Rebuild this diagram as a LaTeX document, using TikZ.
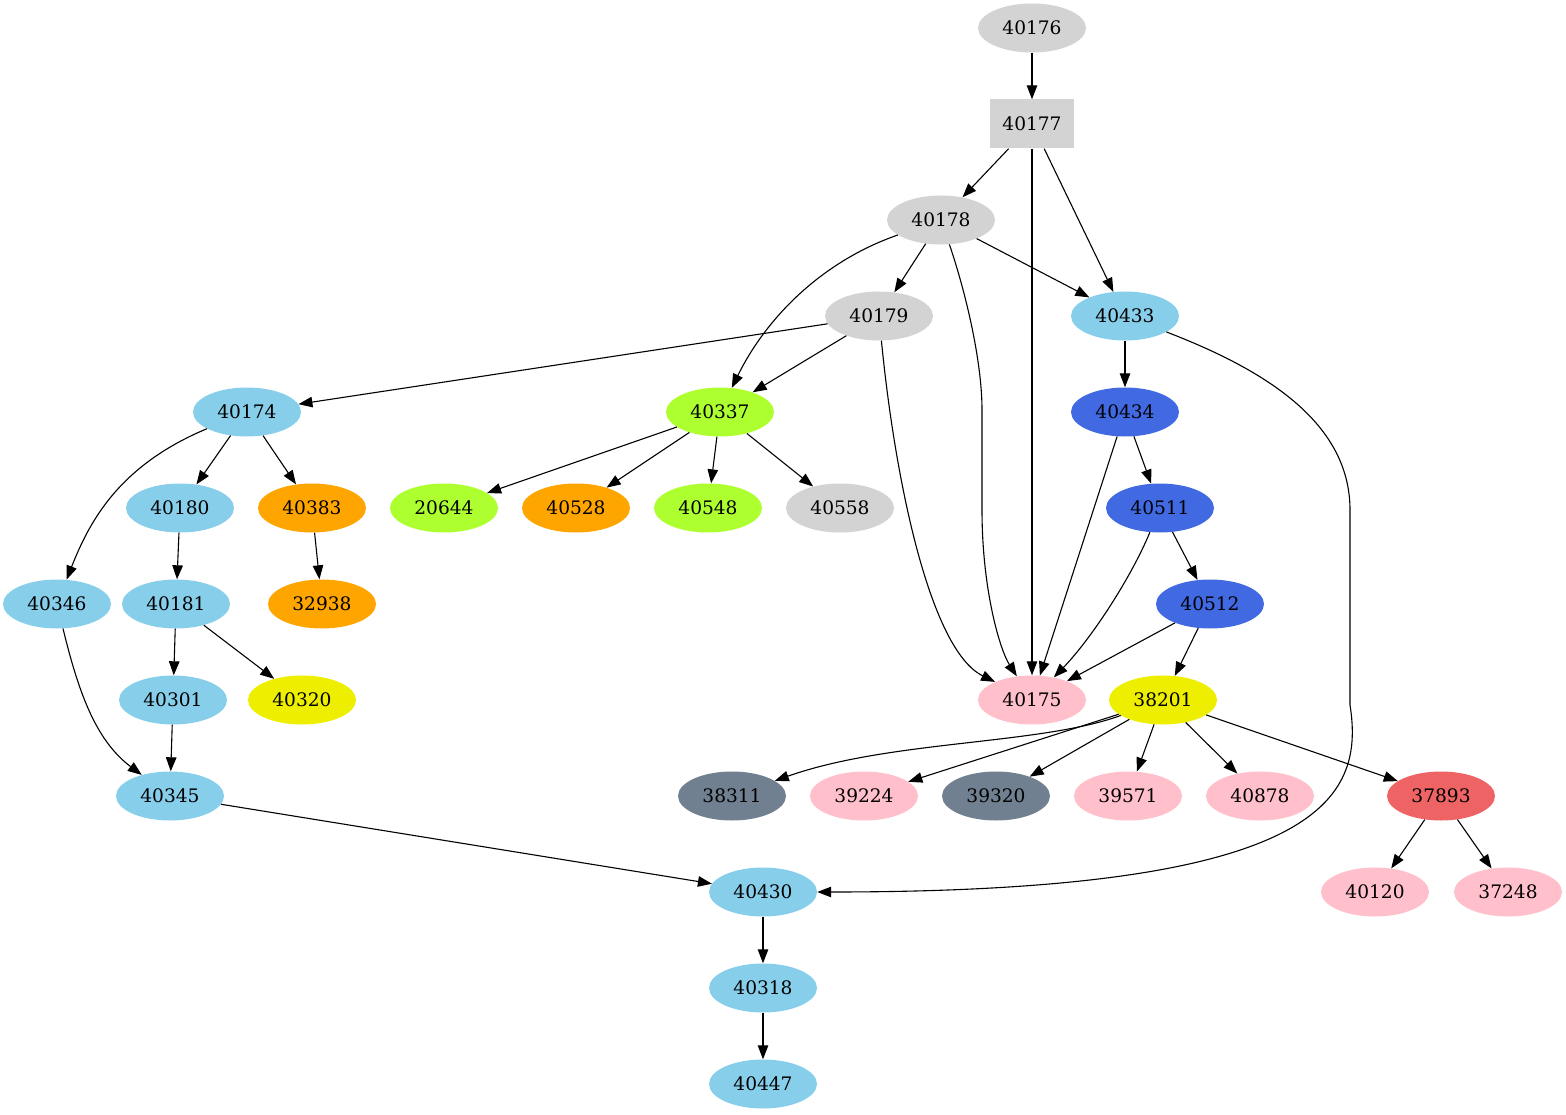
\documentclass[tikz,border=0pt]{standalone}
\usepackage{fontspec}
\setmainfont{DejaVu Serif}
\usetikzlibrary{arrows.meta,shapes.geometric}
\definecolor{cgray}{RGB}{211,211,211}
\definecolor{csky}{RGB}{135,206,235}
\definecolor{cgreen}{RGB}{173,255,47}
\definecolor{corange}{RGB}{255,165,0}
\definecolor{croyal}{RGB}{65,105,225}
\definecolor{cpink}{RGB}{255,192,203}
\definecolor{cyellow}{RGB}{238,238,0}
\definecolor{cslate}{RGB}{112,128,144}
\definecolor{cred}{RGB}{238,99,99}
\tikzset{
  nd/.style={ellipse, minimum width=108pt, minimum height=49pt, inner sep=0pt, font=\fontsize{18.6}{20}\selectfont},
  bx/.style={rectangle, minimum width=84pt, minimum height=49pt, inner sep=0pt, font=\fontsize{18.6}{20}\selectfont},
  ed/.style={-{Triangle[length=14pt,width=10.5pt]}, line width=1.1pt},
}
\begin{document}
\begin{tikzpicture}[x=1pt,y=-1pt]
\useasboundingbox (0,0) rectangle (1566,1115);
% nodes
\node[nd,fill=cgray] (n40176) at (1032,28) {40176};
\node[bx,fill=cgray] (n40177) at (1032,124) {40177};
\node[nd,fill=cgray] (n40178) at (941,220) {40178};
\node[nd,fill=cgray] (n40179) at (879,316) {40179};
\node[nd,fill=csky] (n40433) at (1125,316) {40433};
\node[nd,fill=csky] (n40174) at (247,412) {40174};
\node[nd,fill=cgreen] (n40337) at (720,412) {40337};
\node[nd,fill=croyal] (n40434) at (1125,412) {40434};
\node[nd,fill=csky] (n40180) at (180,508) {40180};
\node[nd,fill=corange] (n40383) at (312,508) {40383};
\node[nd,fill=cgreen] (n20644) at (444,508) {20644};
\node[nd,fill=corange] (n40528) at (576,508) {40528};
\node[nd,fill=cgreen] (n40548) at (708,508) {40548};
\node[nd,fill=cgray] (n40558) at (840,508) {40558};
\node[nd,fill=croyal] (n40511) at (1160,508) {40511};
\node[nd,fill=csky] (n40346) at (57,604) {40346};
\node[nd,fill=csky] (n40181) at (176,604) {40181};
\node[nd,fill=corange] (n32938) at (322,604) {32938};
\node[nd,fill=croyal] (n40512) at (1210,604) {40512};
\node[nd,fill=csky] (n40301) at (173,700) {40301};
\node[nd,fill=cyellow] (n40320) at (302,700) {40320};
\node[nd,fill=cpink] (n40175) at (1032,700) {40175};
\node[nd,fill=cyellow] (n38201) at (1163,700) {38201};
\node[nd,fill=csky] (n40345) at (170,796) {40345};
\node[nd,fill=cslate] (n38311) at (732,796) {38311};
\node[nd,fill=cpink] (n39224) at (864,796) {39224};
\node[nd,fill=cslate] (n39320) at (996,796) {39320};
\node[nd,fill=cpink] (n39571) at (1128,796) {39571};
\node[nd,fill=cpink] (n40878) at (1260,796) {40878};
\node[nd,fill=cred] (n37893) at (1441,796) {37893};
\node[nd,fill=csky] (n40430) at (763,892) {40430};
\node[nd,fill=cpink] (n40120) at (1375,892) {40120};
\node[nd,fill=cpink] (n37248) at (1508,892) {37248};
\node[nd,fill=csky] (n40318) at (763,988) {40318};
\node[nd,fill=csky] (n40447) at (763,1084) {40447};
% edges
\draw[ed] (n40176) -- (n40177);
\draw[ed] (n40177) -- (n40178);
\draw[ed] (n40177) -- (n40175);
\draw[ed] (n40177.south east) ++(-30,0) coordinate (c1) (c1) -- (n40433);
\draw[ed] (n40178) -- (n40179);
\draw[ed] (n40178) .. controls (820,262) and (765,320) .. (n40337);
\draw[ed] (n40178) .. controls (965,290) and (982,360) .. (982,410) -- (982,510) .. controls (982,590) and (1000,650) .. (n40175);
\draw[ed] (n40178) -- (n40433);
\draw[ed] (n40179) -- (n40174);
\draw[ed] (n40179) -- (n40337);
\draw[ed] (n40179) .. controls (895,480) and (930,650) .. (n40175);
\draw[ed] (n40433) -- (n40434);
\draw[ed] (n40433) .. controls (1260,368) and (1350,420) .. (1350,510) -- (1350,705) .. controls (1365,800) and (1320,892) .. (n40430);
\draw[ed] (n40174) .. controls (120,465) and (90,520) .. (n40346);
\draw[ed] (n40174) -- (n40180);
\draw[ed] (n40174) -- (n40383);
\draw[ed] (n40337) -- (n20644);
\draw[ed] (n40337) -- (n40528);
\draw[ed] (n40337) -- (n40548);
\draw[ed] (n40337) -- (n40558);
\draw[ed] (n40434) -- (n40511);
\draw[ed] (n40434) -- (n40175);
\draw[ed] (n40511) -- (n40512);
\draw[ed] (n40511) .. controls (1130,580) and (1090,640) .. (n40175);
\draw[ed] (n40512) -- (n40175);
\draw[ed] (n40512) -- (n38201);
\draw[ed] (n40180) -- (n40181);
\draw[ed] (n40383) -- (n32938);
\draw[ed] (n40181) -- (n40301);
\draw[ed] (n40181) -- (n40320);
\draw[ed] (n40346) .. controls (78,690) and (95,740) .. (n40345);
\draw[ed] (n40301) -- (n40345);
\draw[ed] (n38201) .. controls (1040,745) and (890,740) .. (n38311);
\draw[ed] (n38201) -- (n39224);
\draw[ed] (n38201) -- (n39320);
\draw[ed] (n38201) -- (n39571);
\draw[ed] (n38201) -- (n40878);
\draw[ed] (n38201) -- (n37893);
\draw[ed] (n40345) -- (n40430);
\draw[ed] (n37893) -- (n40120);
\draw[ed] (n37893) -- (n37248);
\draw[ed] (n40430) -- (n40318);
\draw[ed] (n40318) -- (n40447);
\end{tikzpicture}
\end{document}
